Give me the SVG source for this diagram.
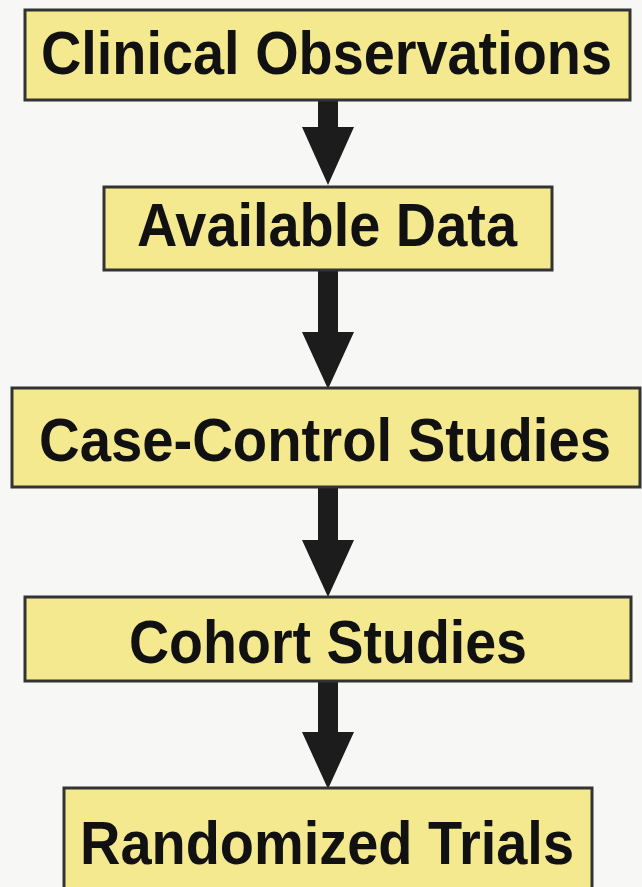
<svg xmlns="http://www.w3.org/2000/svg" width="642" height="887" viewBox="0 0 642 887">
  <style>
    .box { fill: #f4e98f; stroke: #333333; stroke-width: 3; }
    .label { font-family: "Liberation Sans", Arial, sans-serif; font-weight: bold; font-size: 56px; fill: #111111; text-anchor: middle; }
    .arrow { fill: #1c1c1c; }
  </style>
  <rect width="642" height="887" fill="#f7f7f5"/>

  <!-- downward block arrows between stages -->
  <g id="connectors">
    <polygon class="arrow" points="318,100 338,100 338,127 354,127 328,185 302,127 318,127"/>
    <polygon class="arrow" points="318,270 338,270 338,332 354,332 328,389 302,332 318,332"/>
    <polygon class="arrow" points="318,487 338,487 338,540 354,540 328,597 302,540 318,540"/>
    <polygon class="arrow" points="318,681 338,681 338,732 354,732 328,789 302,732 318,732"/>
  </g>

  <!-- labels use a slightly tall face: stretched 8% vertically about the baseline -->
  <g id="clinical-observations">
    <rect class="box" x="25" y="10" width="605" height="90"/>
    <text class="label" transform="translate(326.5,74) scale(1,1.08)" textLength="571" lengthAdjust="spacingAndGlyphs">Clinical Observations</text>
  </g>

  <g id="available-data">
    <rect class="box" x="104" y="187" width="448" height="83"/>
    <text class="label" transform="translate(327,246) scale(1,1.08)" textLength="380" lengthAdjust="spacingAndGlyphs">Available Data</text>
  </g>

  <g id="case-control-studies">
    <rect class="box" x="12" y="388" width="628" height="99"/>
    <text class="label" transform="translate(325,461) scale(1,1.08)" textLength="572" lengthAdjust="spacingAndGlyphs">Case-Control Studies</text>
  </g>

  <g id="cohort-studies">
    <rect class="box" x="25" y="597" width="606" height="84"/>
    <text class="label" transform="translate(328,663) scale(1,1.08)" textLength="398" lengthAdjust="spacingAndGlyphs">Cohort Studies</text>
  </g>

  <g id="randomized-trials">
    <rect class="box" x="64" y="788" width="528" height="104"/>
    <text class="label" transform="translate(327,864) scale(1,1.08)" textLength="494" lengthAdjust="spacingAndGlyphs">Randomized Trials</text>
  </g>
</svg>
